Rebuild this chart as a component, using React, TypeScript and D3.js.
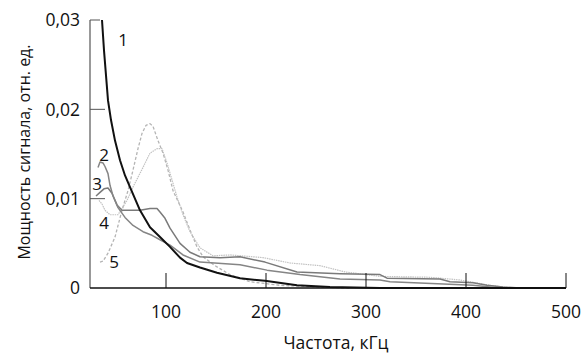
import React from "react";
import * as d3 from "d3";

// частота, кГц / мощность, отн. ед.
const curve1: [number, number][] = [
  [36, 0.03], [38, 0.0266], [40, 0.0238], [42, 0.021], [45, 0.0188], [49, 0.0165],
  [54, 0.0143], [59, 0.0126], [64, 0.0113], [74, 0.0087], [84, 0.0068], [94, 0.0057],
  [104, 0.0046], [114, 0.0034], [121, 0.0028], [134, 0.0023], [151, 0.0017],
  [174, 0.0011], [199, 0.0008], [231, 0.0003], [264, 0.0001], [314, 0], [500, 0],
];
const curve2: [number, number][] = [
  [32, 0.0135], [34, 0.0141], [37, 0.014], [39, 0.0136], [42, 0.0128], [44, 0.0115],
  [47, 0.0103], [52, 0.009], [59, 0.0079], [67, 0.007], [77, 0.0063], [86, 0.0059],
  [94, 0.0054], [104, 0.0048], [117, 0.0037], [134, 0.0029], [174, 0.0026],
  [201, 0.002], [234, 0.0015], [274, 0.001], [314, 0.0009], [324, 0.0007],
  [407, 0.0003], [424, 0.0001], [434, 0], [500, 0],
];
const curve3: [number, number][] = [
  [30, 0.0103], [34, 0.0107], [38, 0.0111], [42, 0.0112], [46, 0.0106], [51, 0.0093],
  [56, 0.0087], [64, 0.0087], [74, 0.0087], [84, 0.0089], [91, 0.0089], [94, 0.0085],
  [99, 0.0078], [104, 0.0067], [114, 0.005], [124, 0.004], [134, 0.0035],
  [154, 0.0034], [174, 0.0035], [199, 0.0029], [231, 0.0018], [274, 0.0016],
  [314, 0.0015], [321, 0.0011], [374, 0.001], [384, 0.0007], [407, 0.0006],
  [421, 0.0003], [437, 0.0001], [454, 0], [500, 0],
];
const curve4: [number, number][] = [
  [33, 0.0098], [36, 0.0094], [39, 0.0087], [44, 0.0082], [52, 0.0082], [61, 0.0098],
  [67, 0.0113], [77, 0.0135], [84, 0.0151], [91, 0.0156], [96, 0.0156], [101, 0.014],
  [106, 0.0121], [111, 0.0102], [117, 0.0082], [124, 0.0063], [134, 0.0045],
  [147, 0.0036], [164, 0.0037], [197, 0.0034], [224, 0.0028], [254, 0.0025],
  [279, 0.0018], [314, 0.0013], [364, 0.0012], [394, 0.0009], [424, 0.0003], [444, 0],
];
const curve5: [number, number][] = [
  [34, 0.0029], [37, 0.003], [42, 0.0039], [49, 0.0057], [56, 0.0087], [62, 0.0109],
  [67, 0.0132], [72, 0.0156], [76, 0.0173], [80, 0.0182], [84, 0.0184], [87, 0.0181],
  [92, 0.0165], [97, 0.0151], [102, 0.0132], [107, 0.0109], [117, 0.0085],
  [124, 0.0065], [131, 0.0046], [137, 0.0035], [149, 0.0025], [164, 0.0015],
  [184, 0.0007], [214, 0.0003], [254, 0.0001], [284, 0],
];

const xTicks = [100, 200, 300, 400, 500];
const yTicks = [0, 0.01, 0.02, 0.03];
const yTickLabels = ["0", "0,01", "0,02", "0,03"];
const curveLabels = ["1", "2", "3", "4", "5"];

const font = "'Open Sans', 'Noto Sans', sans-serif";

export default function App() {
  const x = d3.scaleLinear().domain([24, 500]).range([90, 566]);
  const y = d3.scaleLinear().domain([0, 0.03]).range([288, 20]);
  const line = d3
    .line<[number, number]>()
    .x((d) => x(d[0]))
    .y((d) => y(d[1]));

  const series = [
    { data: curve5, color: "#b4b4b4", width: 1.3, dash: "3 2" },
    { data: curve4, color: "#c2c2c2", width: 1.2, dash: "1.5 0.8" },
    { data: curve3, color: "#7a7a7a", width: 1.5, dash: "" },
    { data: curve2, color: "#858585", width: 1.5, dash: "" },
    { data: curve1, color: "#111", width: 2, dash: "" },
  ];

  // label anchors: [kHz, value]
  const labelPos: [number, number][] = [
    [57, 0.0278], [38, 0.0149], [31, 0.0116], [38, 0.0073], [48, 0.0029],
  ];

  return (
    <svg width={584} height={355} style={{ position: "absolute", left: 0, top: 0 }}>
      <rect width={584} height={355} fill="#fff" />
      {series.map((s, i) => (
        <path
          key={i}
          d={line(s.data) || ""}
          fill="none"
          stroke={s.color}
          strokeWidth={s.width}
          strokeDasharray={s.dash || undefined}
          strokeLinejoin="round"
        />
      ))}
      {/* axes */}
      <line x1={90} x2={90} y1={y(0.03)} y2={y(0)} stroke="#555" strokeWidth={1.2} />
      <line x1={90} x2={566} y1={y(0)} y2={y(0)} stroke="#111" strokeWidth={1.3} />
      {yTicks.map((t, i) => (
        <g key={t}>
          {t > 0 && (
            <line x1={90} x2={t === 0.03 ? 100 : 105} y1={y(t)} y2={y(t)} stroke="#555" strokeWidth={1} />
          )}
          <text x={80} y={y(t)} dy="0.36em" textAnchor="end" fontFamily={font} fontSize={17.5} fill="#111">
            {yTickLabels[i]}
          </text>
        </g>
      ))}
      {xTicks.map((t) => (
        <g key={t}>
          <line x1={x(t)} x2={x(t)} y1={y(0) - 15} y2={y(0)} stroke="#111" strokeWidth={1} />
          <text x={x(t)} y={318} textAnchor="middle" fontFamily={font} fontSize={17.5} fill="#111">
            {t}
          </text>
        </g>
      ))}
      {curveLabels.map((l, i) => (
        <text
          key={l}
          x={x(labelPos[i][0])}
          y={y(labelPos[i][1])}
          dy="0.36em"
          textAnchor="middle"
          fontFamily={font}
          fontSize={17}
          fill="#111"
        >
          {l}
        </text>
      ))}
      <text x={336} y={349} textAnchor="middle" fontFamily={font} fontSize={17.5} fill="#111">
        Частота, кГц
      </text>
      <text
        transform="translate(30,152) rotate(-90)"
        textAnchor="middle"
        fontFamily={font}
        fontSize={16}
        fill="#111"
      >
        Мощность сигнала, отн. ед.
      </text>
    </svg>
  );
}
